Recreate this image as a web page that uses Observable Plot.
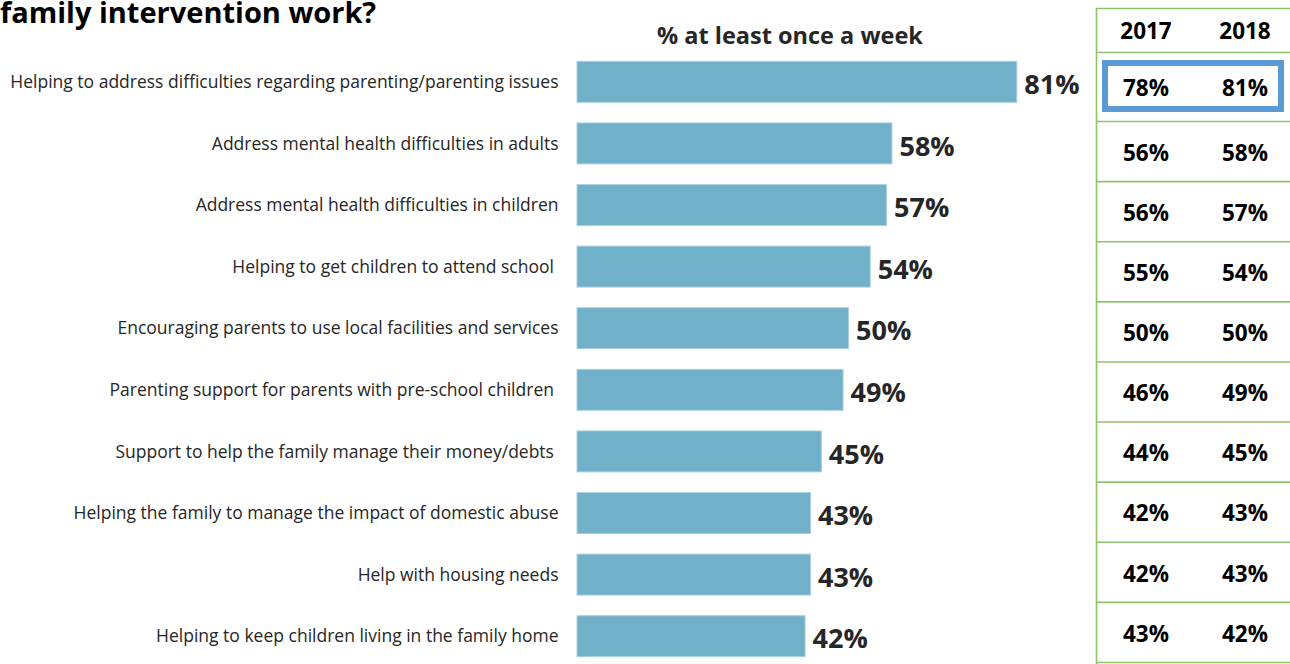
<!DOCTYPE html>
<html>
<head>
<meta charset="utf-8">
<script src="https://cdn.jsdelivr.net/npm/d3@7"></script>
<script src="https://cdn.jsdelivr.net/npm/@observablehq/plot@0.6"></script>
<style>
  html, body { margin: 0; padding: 0; background: #fff; }
  body { width: 1290px; height: 664px; position: relative; overflow: hidden; font-family: "Open Sans", sans-serif; }
  #title { position: absolute; left: 0; top: -3px; font-size: 29px; line-height: 29px; font-weight: 700; color: #000; white-space: nowrap; }
  #subtitle { position: absolute; left: 657px; top: 24px; font-size: 23.5px; line-height: 23.5px; font-weight: 700; color: #262626; white-space: nowrap; }
  #bars { position: absolute; left: 0; top: 0; }
  #table { position: absolute; left: 1096px; top: 0; }
  svg text { white-space: pre; }
</style>
</head>
<body>
<div id="bars"></div>
<div id="table"></div>
<div id="title">family intervention work?</div>
<div id="subtitle">% at least once a week</div>
<script>
const categories = [
  "Helping to address difficulties regarding parenting/parenting issues",
  "Address mental health difficulties in adults",
  "Address mental health difficulties in children",
  "Helping to get children to attend school ",
  "Encouraging parents to use local facilities and services",
  "Parenting support for parents with pre-school children ",
  "Support to help the family manage their money/debts ",
  "Helping the family to manage the impact of domestic abuse",
  "Help with housing needs",
  "Helping to keep children living in the family home"
];
const values2018 = [81, 58, 57, 54, 50, 49, 45, 43, 43, 42];
const values2017 = [78, 56, 56, 55, 50, 46, 44, 42, 42, 43];
const years = ["2017", "2018"];

const barData = categories.map((c, i) => ({category: c, value: values2018[i]}));

const bars = Plot.plot({
  width: 1290,
  height: 664,
  marginLeft: 577,
  marginRight: 170,
  style: {fontFamily: "Open Sans, sans-serif", background: "transparent"},
  x: {domain: [0, 100], axis: null},
  y: {domain: categories, range: [51, 667], paddingInner: 0.335, paddingOuter: 0.1675, round: false, label: null},
  marks: [
    Plot.barX(barData, {y: "category", x: "value", fill: "#71b0c9", stroke: "#a9d0df", strokeWidth: 1}),
    Plot.text(barData, {y: "category", x: "value", text: d => `${d.value}%`, textAnchor: "start", dx: 7, dy: 3,
      fontSize: 27, fontWeight: 700, fill: "#262626"}),
    Plot.axisY({tickSize: 0, tickPadding: 19, fontSize: 17.5, label: null, fill: "#262626"})
  ]
});
document.getElementById("bars").appendChild(bars);

// table: one row per category plus a header row
const rows = categories.map((c, i) => ({row: i, v2017: values2017[i], v2018: values2018[i]}));
const cells = rows.flatMap(r => years.map((yr, j) => ({row: r.row, col: j, text: `${j === 0 ? r.v2017 : r.v2018}%`})));
const headers = years.map((yr, j) => ({col: j, text: yr}));
const edges = d3.range(-1, categories.length + 1);

const table = Plot.plot({
  width: 194,
  height: 664,
  margin: 0,
  style: {fontFamily: "Open Sans, sans-serif", background: "transparent", overflow: "visible"},
  x: {type: "linear", domain: [0, 2], range: [0, 198], axis: null},
  y: {type: "linear", domain: [-1, 0, 1, categories.length], range: [8, 52, 121, 662], axis: null},
  marks: [
    Plot.ruleY(edges, {y: d => d, x1: 0, x2: 2, stroke: "#8fc36b", strokeWidth: 1.6, strokeOpacity: 1}),
    Plot.ruleX([0], {x: d => d, y1: -1, y2: categories.length + 1, stroke: "#8fc36b", strokeWidth: 1.6, strokeOpacity: 1}),
    Plot.rect([rows[0]], {x1: 0, x2: 2, y1: d => d.row, y2: d => d.row + 1,
      insetLeft: 9, insetRight: 13, insetTop: 11, insetBottom: 12,
      fill: "none", stroke: "#5b9bd5", strokeWidth: 6}),
    Plot.text(headers, {x: d => d.col + 0.5, y: () => -0.5, text: "text", fontSize: 22.5, fontWeight: 700, fill: "#000", dy: 1}),
    Plot.text(cells, {x: d => d.col + 0.5, y: d => d.row + 0.5, text: "text", fontSize: 22.5, fontWeight: 700, fill: "#000", dy: 2})
  ]
});
document.getElementById("table").appendChild(table);
</script>
</body>
</html>
